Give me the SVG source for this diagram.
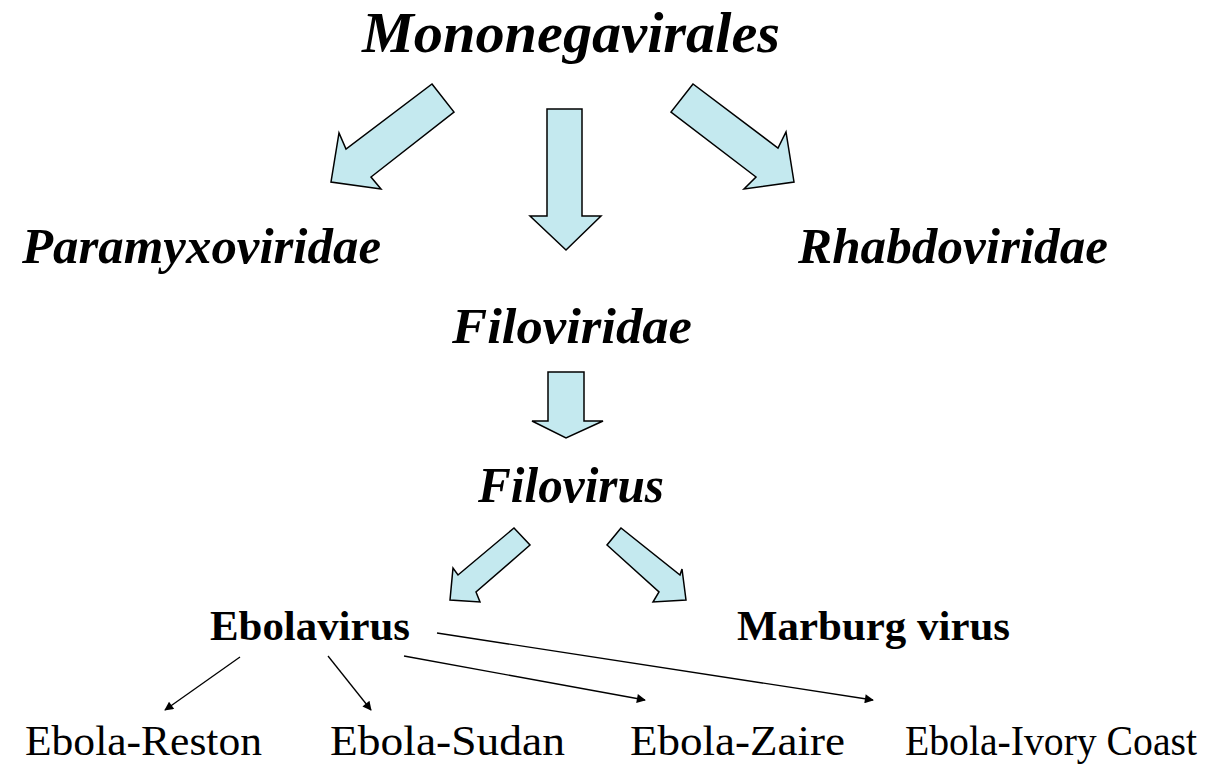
<svg xmlns="http://www.w3.org/2000/svg" width="1230" height="766" viewBox="0 0 1230 766">
<style>
text{font-family:'Liberation Serif','Times New Roman',serif;fill:#000}
.bi{font-weight:bold;font-style:italic}
.b{font-weight:bold}
.big{stroke:#000;stroke-width:1.5;fill:#c4e9ef;stroke-linejoin:miter}
.thin{stroke:#000;stroke-width:1.3;fill:none}
</style>
<defs>
<marker id="ah" viewBox="0 0 10 10" refX="9" refY="5" markerWidth="12" markerHeight="9" markerUnits="userSpaceOnUse" orient="auto">
<path d="M0,0 L10,5 L0,10 Z" fill="#000"/>
</marker>
</defs>
<g id="connectors">
<polygon class="big" points="432,84 454,112 371,177 381,189 331,182 339,133 346,149"/>
<polygon class="big" points="547,109 582,109 582,216 601,216 566,250 530,216 547,216"/>
<polygon class="big" points="693,84 671,112 756,177 744,189 794,182 786,132 778,148"/>
<polygon class="big" points="548,372 584,372 584,421 603,421 566,438 532,421 548,421"/>
<polygon class="big" points="514,528 530,545 476,592 480,602 450,600 453,568 458,575"/>
<polygon class="big" points="621,528 607,545 659,592 653,602 686,600 682,569 680,575"/>
<line class="thin" x1="240" y1="657" x2="165" y2="710" marker-end="url(#ah)"/>
<line class="thin" x1="328" y1="656" x2="371" y2="710" marker-end="url(#ah)"/>
<line class="thin" x1="404" y1="656" x2="645" y2="700" marker-end="url(#ah)"/>
<line class="thin" x1="437" y1="633" x2="873" y2="700" marker-end="url(#ah)"/>
</g>
<g id="mononegavirales"><text class="bi" x="362" y="52" font-size="57" textLength="418" lengthAdjust="spacingAndGlyphs">Mononegavirales</text></g>
<g id="paramyxoviridae"><text class="bi" x="22" y="263" font-size="50" textLength="359" lengthAdjust="spacingAndGlyphs">Paramyxoviridae</text></g>
<g id="rhabdoviridae"><text class="bi" x="798" y="263" font-size="50" textLength="310" lengthAdjust="spacingAndGlyphs">Rhabdoviridae</text></g>
<g id="filoviridae"><text class="bi" x="452" y="343" font-size="50" textLength="240" lengthAdjust="spacingAndGlyphs">Filoviridae</text></g>
<g id="filovirus"><text class="bi" x="478" y="502" font-size="50" textLength="186" lengthAdjust="spacingAndGlyphs">Filovirus</text></g>
<g id="ebolavirus"><text class="b" x="210" y="640" font-size="42" textLength="200" lengthAdjust="spacingAndGlyphs">Ebolavirus</text></g>
<g id="marburg"><text class="b" x="737" y="640" font-size="42" textLength="273" lengthAdjust="spacingAndGlyphs">Marburg virus</text></g>
<g id="reston"><text x="25" y="755" font-size="43" textLength="237" lengthAdjust="spacingAndGlyphs">Ebola-Reston</text></g>
<g id="sudan"><text x="330" y="755" font-size="43" textLength="235" lengthAdjust="spacingAndGlyphs">Ebola-Sudan</text></g>
<g id="zaire"><text x="630" y="755" font-size="43" textLength="215" lengthAdjust="spacingAndGlyphs">Ebola-Zaire</text></g>
<g id="ivory"><text x="905" y="755" font-size="43" textLength="292" lengthAdjust="spacingAndGlyphs">Ebola-Ivory Coast</text></g>
</svg>
